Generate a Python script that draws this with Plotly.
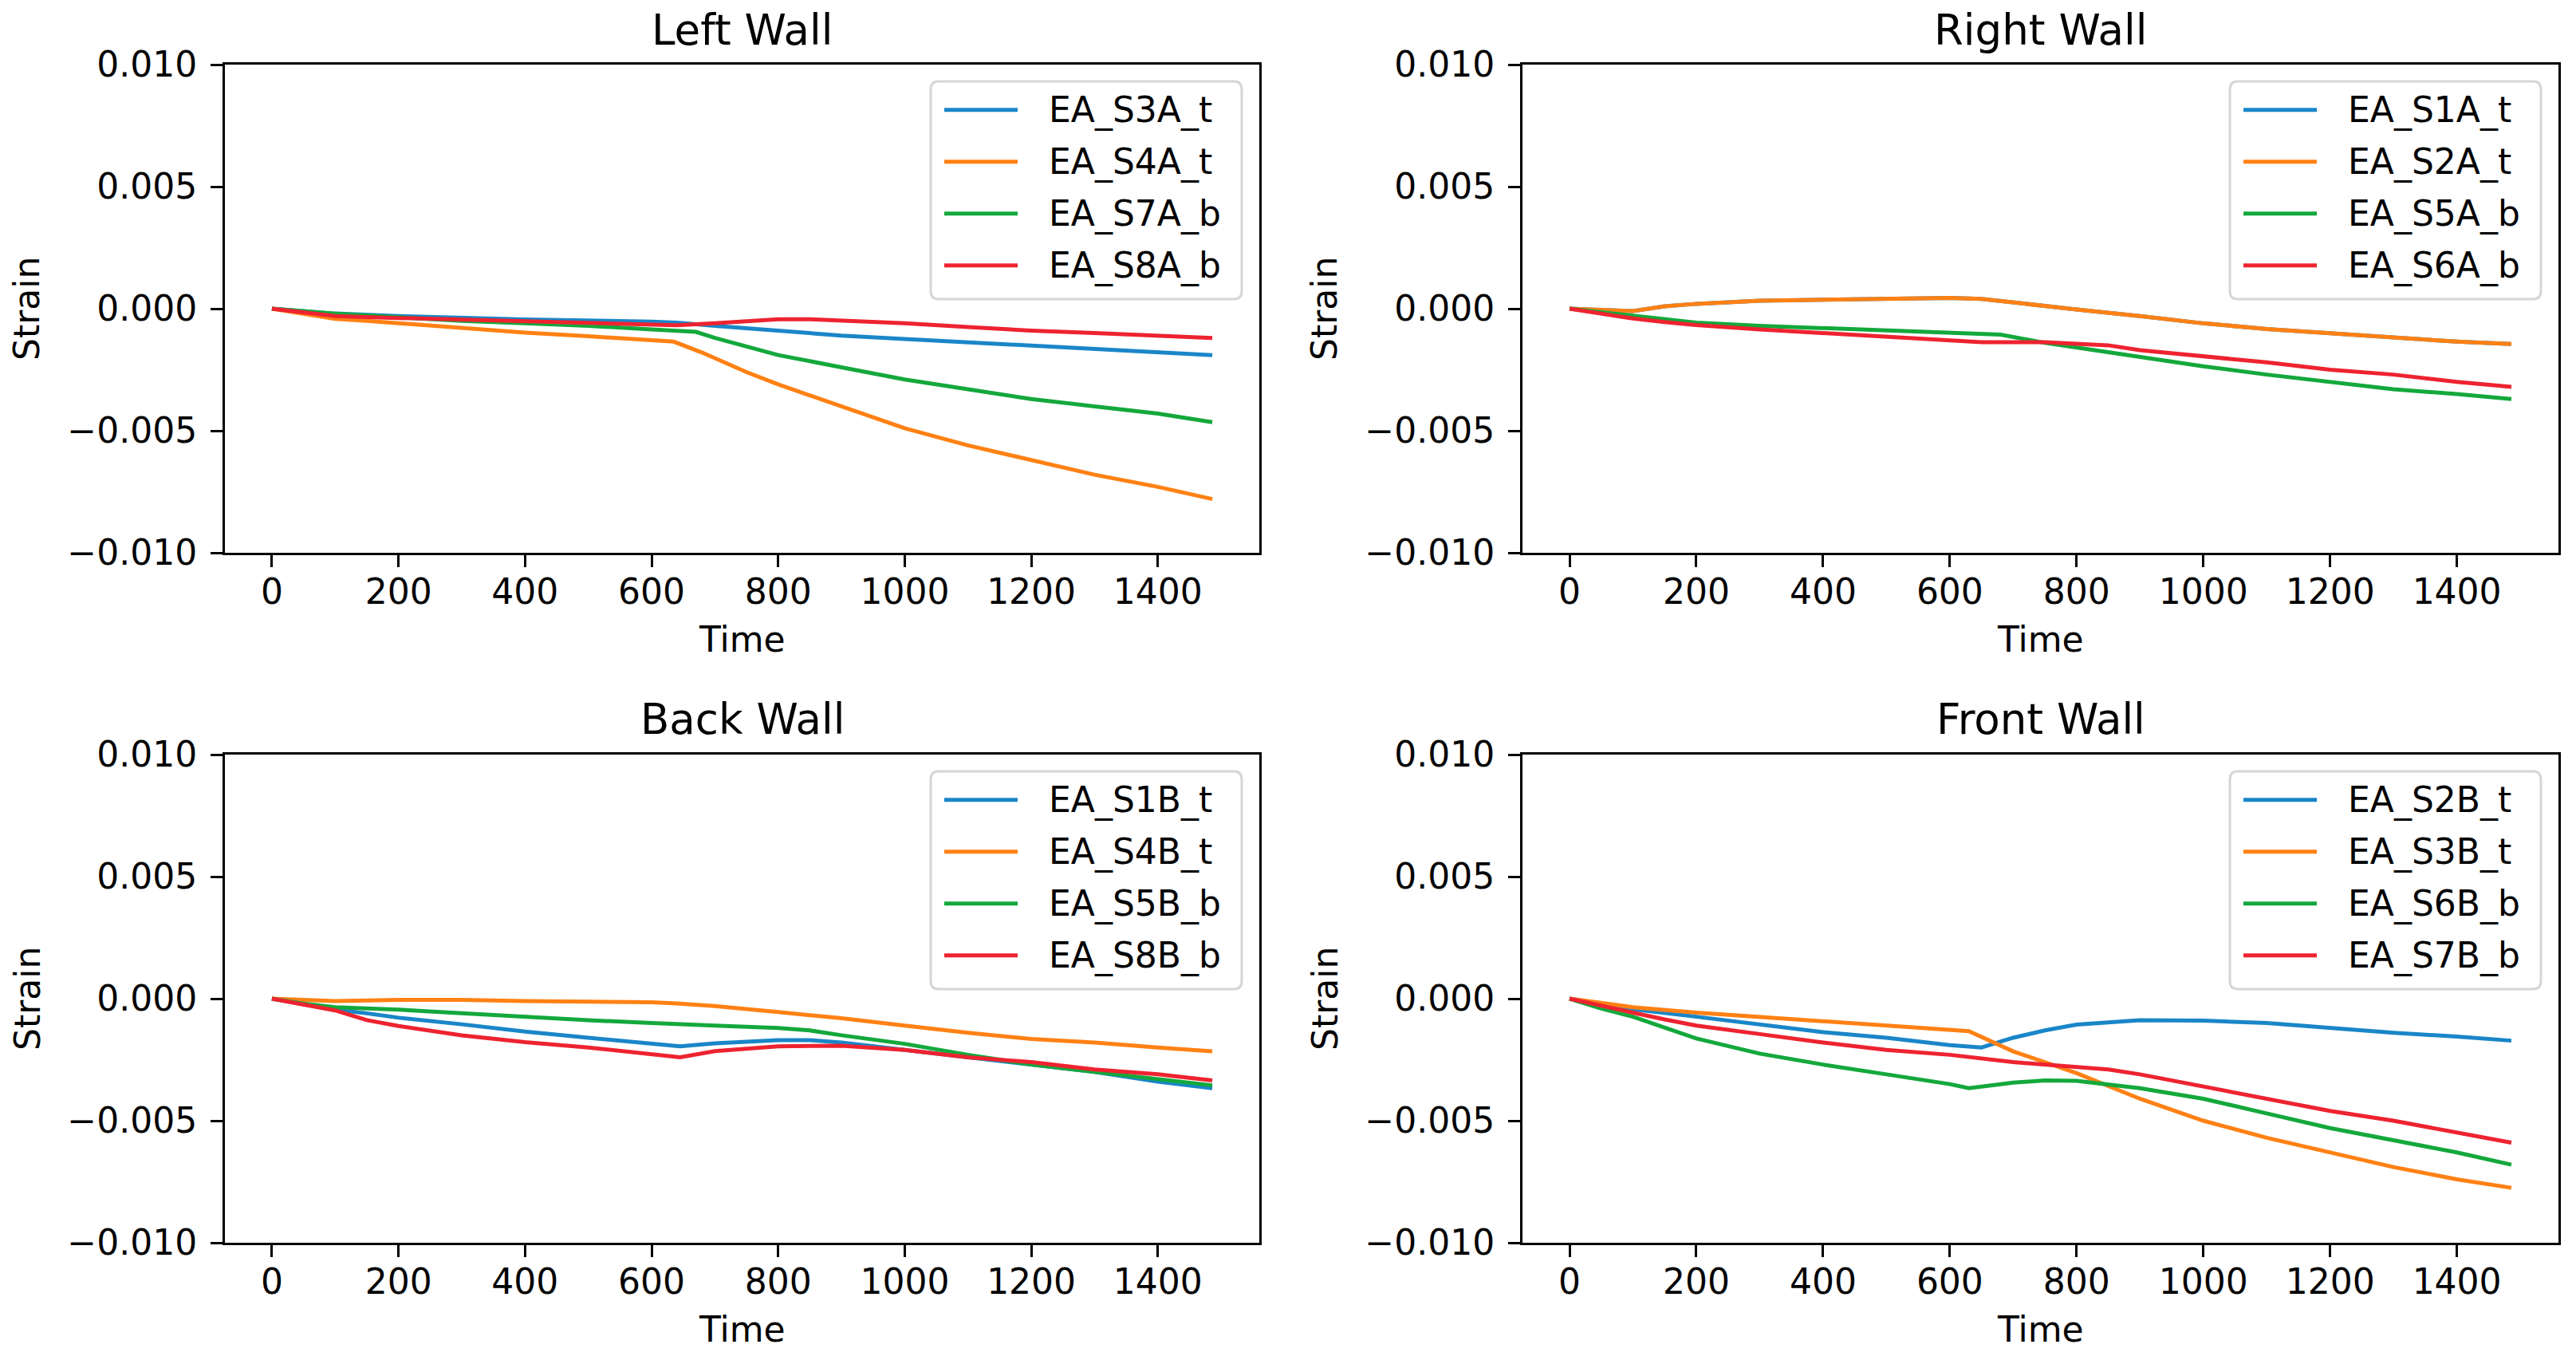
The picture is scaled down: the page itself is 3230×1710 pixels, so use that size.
import plotly.graph_objects as go

# ---------------- DATA ----------------
wall_titles = ["Left Wall", "Right Wall", "Back Wall", "Front Wall"]
x_ticks = [0, 200, 400, 600, 800, 1000, 1200, 1400]
y_ticks = [-0.010, -0.005, 0.000, 0.005, 0.010]
t_end = 1486

# Left Wall
left_names = ["EA_S3A_t", "EA_S4A_t", "EA_S7A_b", "EA_S8A_b"]
left_t_s3a = [0, 100, 200, 400, 600, 640, 700, 800, 900, 1000, 1100, 1200, 1300, 1400, 1486]
left_v_s3a = [0, -0.0002, -0.0003, -0.00044, -0.00053, -0.00057, -0.0007, -0.00092, -0.0011, -0.00124,
              -0.00137, -0.0015, -0.00165, -0.00177, -0.0019]
left_t_s4a = [0, 50, 100, 150, 200, 300, 400, 500, 600, 635, 680, 750, 800, 900, 1000, 1100, 1200, 1300, 1400, 1486]
left_v_s4a = [0, -0.0002, -0.00042, -0.0005, -0.0006, -0.0008, -0.00098, -0.00113, -0.00128, -0.00135,
              -0.0018, -0.0026, -0.0031, -0.004, -0.0049, -0.0056, -0.0062, -0.0068, -0.0073, -0.0078]
left_t_s7a = [0, 50, 100, 200, 300, 400, 500, 600, 670, 700, 800, 900, 1000, 1100, 1200, 1300, 1400, 1486]
left_v_s7a = [0, -0.0001, -0.0002, -0.00035, -0.0005, -0.0006, -0.0007, -0.00085, -0.00095, -0.0012,
              -0.0019, -0.0024, -0.0029, -0.0033, -0.0037, -0.004, -0.0043, -0.00465]
left_t_s8a = [0, 50, 100, 200, 300, 400, 500, 600, 640, 700, 750, 800, 850, 900, 1000, 1100, 1200, 1300, 1400, 1486]
left_v_s8a = [0, -0.00015, -0.0003, -0.00038, -0.00045, -0.00052, -0.00058, -0.00065, -0.00068, -0.0006,
              -0.0005, -0.00043, -0.00043, -0.00048, -0.0006, -0.00075, -0.0009, -0.001, -0.0011, -0.0012]

# Right Wall
right_names = ["EA_S1A_t", "EA_S2A_t", "EA_S5A_b", "EA_S6A_b"]
right_t_s1a = [0, 50, 100, 150, 200, 300, 400, 500, 600, 650, 700, 750, 800, 900, 1000, 1100, 1200, 1300, 1400, 1486]
right_v_s1a = [0, -0.00005, -0.0001, 0.0001, 0.0002, 0.00033, 0.00038, 0.00042, 0.00044, 0.0004, 0.00027,
               0.0001, -0.00003, -0.0003, -0.0006, -0.00083, -0.001, -0.0012, -0.00135, -0.00145]
right_t_s2a = [0, 50, 100, 150, 200, 300, 400, 500, 600, 650, 700, 750, 800, 900, 1000, 1100, 1200, 1300, 1400, 1486]
right_v_s2a = [0, -0.00005, -0.0001, 0.0001, 0.0002, 0.00033, 0.00038, 0.00042, 0.00044, 0.0004, 0.00027,
               0.0001, -0.00003, -0.0003, -0.0006, -0.00083, -0.001, -0.0012, -0.00135, -0.00145]
right_t_s5a = [0, 50, 100, 150, 200, 300, 400, 500, 600, 680, 750, 800, 900, 1000, 1100, 1200, 1300, 1400, 1486]
right_v_s5a = [0, -0.00015, -0.0003, -0.00045, -0.00057, -0.0007, -0.0008, -0.0009, -0.00098, -0.00106,
               -0.0014, -0.0016, -0.002, -0.00236, -0.0027, -0.003, -0.0033, -0.0035, -0.0037]
right_t_s6a = [0, 50, 100, 150, 200, 300, 400, 500, 600, 650, 750, 800, 850, 900, 1000, 1100, 1200, 1300, 1400, 1486]
right_v_s6a = [0, -0.0002, -0.0004, -0.00055, -0.00067, -0.00085, -0.001, -0.00115, -0.0013, -0.00137,
               -0.00137, -0.00145, -0.0015, -0.0017, -0.00195, -0.0022, -0.0025, -0.0027, -0.003, -0.0032]

# Back Wall
back_names = ["EA_S1B_t", "EA_S4B_t", "EA_S5B_b", "EA_S8B_b"]
back_t_s1b = [0, 50, 100, 150, 200, 300, 400, 500, 600, 645, 700, 800, 850, 900, 1000, 1100, 1200, 1300, 1400, 1486]
back_v_s1b = [0, -0.00022, -0.00045, -0.0006, -0.00078, -0.00105, -0.00135, -0.0016, -0.00185, -0.00195,
              -0.00183, -0.0017, -0.0017, -0.0018, -0.0021, -0.0024, -0.0027, -0.003, -0.0034, -0.00367]
back_t_s4b = [0, 50, 100, 200, 300, 400, 500, 600, 640, 700, 800, 900, 1000, 1100, 1200, 1300, 1400, 1486]
back_v_s4b = [0, -0.00005, -0.0001, -0.00005, -0.00005, -0.0001, -0.00012, -0.00015, -0.0002, -0.0003,
              -0.00055, -0.0008, -0.0011, -0.0014, -0.00165, -0.0018, -0.002, -0.00216]
back_t_s5b = [0, 50, 100, 200, 300, 400, 500, 600, 640, 700, 800, 850, 900, 1000, 1100, 1200, 1300, 1400, 1486]
back_v_s5b = [0, -0.0002, -0.00035, -0.00045, -0.0006, -0.00075, -0.00088, -0.001, -0.00105, -0.0011,
              -0.0012, -0.0013, -0.0015, -0.00185, -0.0023, -0.0027, -0.003, -0.0033, -0.00355]
back_t_s8b = [0, 50, 100, 150, 200, 300, 400, 500, 600, 645, 700, 800, 900, 1000, 1100, 1200, 1300, 1400, 1486]
back_v_s8b = [0, -0.00022, -0.00048, -0.00088, -0.00112, -0.0015, -0.00178, -0.002, -0.00228, -0.0024,
              -0.00215, -0.00195, -0.00193, -0.0021, -0.0024, -0.0026, -0.0029, -0.0031, -0.00335]

# Front Wall
front_names = ["EA_S2B_t", "EA_S3B_t", "EA_S6B_b", "EA_S7B_b"]
front_t_s2b = [0, 50, 100, 200, 300, 400, 500, 600, 650, 700, 750, 800, 900, 1000, 1100, 1200, 1300, 1400, 1486]
front_v_s2b = [0, -0.00022, -0.00043, -0.00074, -0.00105, -0.00137, -0.0016, -0.0019, -0.002, -0.0016,
               -0.0013, -0.00106, -0.00088, -0.0009, -0.001, -0.0012, -0.0014, -0.00155, -0.00172]
front_t_s3b = [0, 50, 100, 200, 300, 400, 500, 600, 630, 700, 750, 800, 900, 1000, 1100, 1200, 1300, 1400, 1486]
front_v_s3b = [0, -0.00018, -0.00035, -0.00057, -0.00075, -0.00092, -0.0011, -0.00128, -0.00133, -0.00216,
               -0.0026, -0.00305, -0.0041, -0.005, -0.0057, -0.0063, -0.0069, -0.0074, -0.00775]
front_t_s6b = [0, 50, 100, 150, 200, 300, 400, 500, 600, 630, 700, 750, 800, 900, 1000, 1100, 1200, 1300, 1400, 1486]
front_v_s6b = [0, -0.0004, -0.00074, -0.0012, -0.00163, -0.00225, -0.0027, -0.0031, -0.0035, -0.00367,
               -0.00344, -0.00335, -0.00337, -0.00367, -0.0041, -0.0047, -0.0053, -0.0058, -0.0063, -0.0068]
front_t_s7b = [0, 50, 100, 150, 200, 300, 400, 500, 600, 700, 800, 850, 900, 1000, 1100, 1200, 1300, 1400, 1486]
front_v_s7b = [0, -0.0003, -0.00057, -0.00085, -0.0011, -0.00145, -0.0018, -0.0021, -0.0023, -0.0026,
               -0.0028, -0.0029, -0.0031, -0.0036, -0.0041, -0.0046, -0.005, -0.0055, -0.0059]

walls = [
    (left_names, [(left_t_s3a, left_v_s3a), (left_t_s4a, left_v_s4a), (left_t_s7a, left_v_s7a), (left_t_s8a, left_v_s8a)]),
    (right_names, [(right_t_s1a, right_v_s1a), (right_t_s2a, right_v_s2a), (right_t_s5a, right_v_s5a), (right_t_s6a, right_v_s6a)]),
    (back_names, [(back_t_s1b, back_v_s1b), (back_t_s4b, back_v_s4b), (back_t_s5b, back_v_s5b), (back_t_s8b, back_v_s8b)]),
    (front_names, [(front_t_s2b, front_v_s2b), (front_t_s3b, front_v_s3b), (front_t_s6b, front_v_s6b), (front_t_s7b, front_v_s7b)]),
]

# ---------------- STYLE / LAYOUT ----------------
W, H = 3230, 1710
OFF = 8  # page body margin compensation (px)
FONT = "DejaVu Sans"
FS = 44        # ticks, labels, legend
FS_TITLE = 53  # subplot titles
colors = ["#1a86c8", "#ff8114", "#14a83c", "#ee2330"]
LW = 5
# axes boxes in page pixels: (left, right, top, bottom)
boxes = [(282, 1579, 81, 693), (1909, 3208, 81, 693),
         (282, 1579, 946, 1558), (1909, 3208, 946, 1558)]


def px(x):
    return (x - OFF) / W


def py(y):
    return 1 - (y - OFF) / H


fig = go.Figure()
layout = dict(width=W, height=H, autosize=False,
              margin=dict(l=0, r=0, t=0, b=0, pad=0, autoexpand=False),
              paper_bgcolor="white", plot_bgcolor="white", showlegend=False,
              font=dict(family=FONT, size=FS, color="black"))
annotations = []
shapes = []

for i, (box, (names, series)) in enumerate(zip(boxes, walls)):
    L, R, T, B = box
    k = "" if i == 0 else str(i + 1)
    xa, ya = "x" + k, "y" + k
    for j, (name, (t, v)) in enumerate(zip(names, series)):
        fig.add_trace(go.Scatter(x=t, y=v, mode="lines", name=name,
                                 line=dict(color=colors[j], width=LW),
                                 xaxis=xa, yaxis=ya))
    axcommon = dict(showline=True, linecolor="black", linewidth=3, mirror=True,
                    ticks="outside", ticklen=15, tickwidth=3, tickcolor="black",
                    showgrid=False, zeroline=False, automargin=False,
                    tickfont=dict(family=FONT, size=FS, color="black"))
    layout["xaxis" + k] = dict(domain=[px(L), px(R)], anchor=ya,
                               range=[-0.05 * t_end, 1.05 * t_end],
                               tickvals=x_ticks, ticktext=[str(v) for v in x_ticks],
                               ticklabelstandoff=-7, **axcommon)
    layout["yaxis" + k] = dict(domain=[py(B), py(T)], anchor=xa,
                               range=[-0.010, 0.010], tickvals=y_ticks,
                               tickformat=".3f", ticklabelstandoff=8, **axcommon)
    cx = (L + R) / 2
    # subplot title
    annotations.append(dict(text=wall_titles[i], x=px(cx), y=py(T - 44), xref="paper", yref="paper",
                            xanchor="center", yanchor="middle", showarrow=False,
                            font=dict(family=FONT, size=FS_TITLE, color="black")))
    # axis titles
    annotations.append(dict(text="Time", x=px(cx), y=py(B + 108), xref="paper", yref="paper",
                            xanchor="center", yanchor="middle", showarrow=False,
                            font=dict(family=FONT, size=FS, color="black")))
    annotations.append(dict(text="Strain", x=px(L - 248), y=py((T + B) / 2), xref="paper", yref="paper",
                            xanchor="center", yanchor="middle", showarrow=False, textangle=-90,
                            font=dict(family=FONT, size=FS, color="black")))
    # legend box (upper right)
    bR = R - 22
    bL = bR - 390
    bT = T + 21
    bB = bT + 273
    r = 10
    pts = [
        ("M", [(bL + r, bT)]), ("L", [(bR - r, bT)]), ("Q", [(bR, bT), (bR, bT + r)]),
        ("L", [(bR, bB - r)]), ("Q", [(bR, bB), (bR - r, bB)]),
        ("L", [(bL + r, bB)]), ("Q", [(bL, bB), (bL, bB - r)]),
        ("L", [(bL, bT + r)]), ("Q", [(bL, bT), (bL + r, bT)]),
    ]
    path = " ".join(c + " " + " ".join(f"{px(a):.6f},{py(b):.6f}" for a, b in p) for c, p in pts) + " Z"
    shapes.append(dict(type="path", path=path, xref="paper", yref="paper",
                       line=dict(color="#d6d6d6", width=3), fillcolor="rgba(255,255,255,0.8)",
                       layer="above"))
    for j, name in enumerate(names):
        ry = bT + 35.7 + 65 * j
        shapes.append(dict(type="line", xref="paper", yref="paper",
                           x0=px(bL + 17), x1=px(bL + 109), y0=py(ry), y1=py(ry),
                           line=dict(color=colors[j], width=LW), layer="above"))
        annotations.append(dict(text=name, x=px(bL + 146), y=py(ry), xref="paper", yref="paper",
                                xanchor="left", yanchor="middle", showarrow=False,
                                font=dict(family=FONT, size=FS, color="black")))

layout["annotations"] = annotations
layout["shapes"] = shapes
fig.update_layout(**layout)
fig.write_html("out.html")
